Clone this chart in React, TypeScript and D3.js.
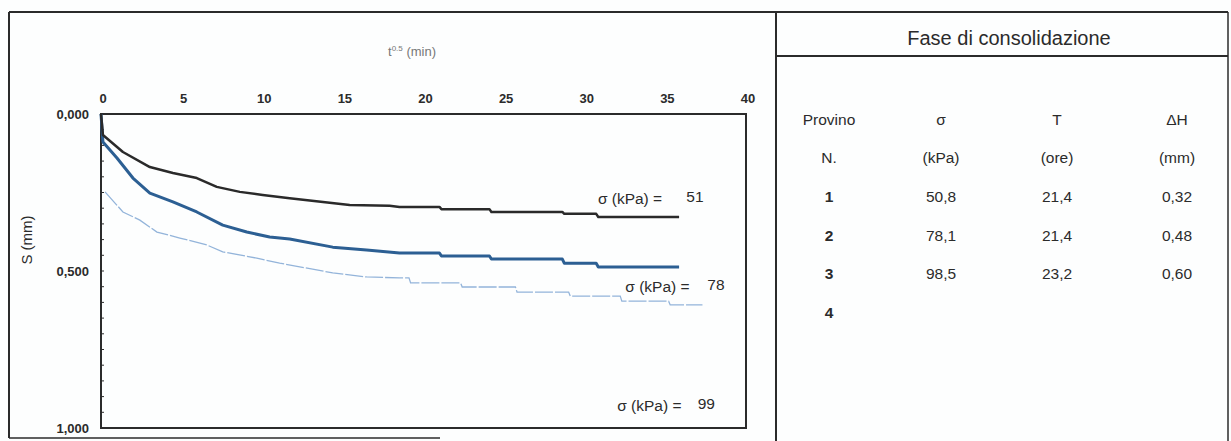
import React from "react";
import * as d3 from "d3";

// curves: [t^0.5 (min), S (mm)]
const curve51: [number, number][] = [
  [0, 0], [0.12, 0.067], [1.36, 0.121], [3.03, 0.169], [4.46, 0.188], [5.94, 0.204],
  [7.18, 0.232], [8.61, 0.248], [10.03, 0.258], [11.7, 0.268], [15.42, 0.29], [17.9, 0.292],
  [18.51, 0.296], [20.99, 0.296], [21.11, 0.303], [24.09, 0.303], [24.21, 0.312], [28.61, 0.312],
  [28.73, 0.318], [30.71, 0.318], [30.84, 0.328], [35.85, 0.328],
];
const curve78: [number, number][] = [
  [0, 0], [0.12, 0.089], [0.99, 0.14], [1.98, 0.204], [3.03, 0.252], [4.46, 0.28], [5.94, 0.312],
  [7.55, 0.354], [9.04, 0.376], [10.46, 0.392], [11.7, 0.398], [14.37, 0.424], [16.47, 0.433],
  [18.51, 0.443], [20.99, 0.443], [21.11, 0.452], [24.09, 0.452], [24.21, 0.462], [28.61, 0.462],
  [28.73, 0.475], [30.71, 0.475], [30.84, 0.487], [35.85, 0.487],
];
const curve99: [number, number][] = [
  [0.25, 0.248], [1.36, 0.312], [2.41, 0.338], [3.47, 0.376], [4.89, 0.395], [6.56, 0.417],
  [7.55, 0.439], [9.66, 0.459], [11.08, 0.475], [14.37, 0.506], [16.47, 0.519], [18.51, 0.522],
  [19.1, 0.522], [19.2, 0.538], [22.3, 0.538], [22.4, 0.551], [25.7, 0.551], [25.8, 0.567],
  [29.0, 0.567], [29.1, 0.58], [32.2, 0.58], [32.3, 0.596], [35.2, 0.596], [35.3, 0.608],
  [37.3, 0.608],
];

const xTicks = [0, 5, 10, 15, 20, 25, 30, 35, 40];
const yTicks = [0, 0.5, 1];
const sigmaLabels = [
  { value: "51", t: 34.8, s: 0.287, tv: 36.3 },
  { value: "78", t: 36.5, s: 0.566, tv: 37.6 },
  { value: "99", t: 36.0, s: 0.945, tv: 37.0 },
];

const tableHead = ["Provino", "σ", "T", "ΔH"];
const tableUnits = ["N.", "(kPa)", "(ore)", "(mm)"];
const tableRows = [
  ["1", "50,8", "21,4", "0,32"],
  ["2", "78,1", "21,4", "0,48"],
  ["3", "98,5", "23,2", "0,60"],
  ["4", "", "", ""],
];

const W = 1231;
const H = 441;
const font = "'Liberation Sans', Arial, sans-serif";
const ink = "#2b2b2b";

export default function App() {
  const x = d3.scaleLinear().domain([0, 40]).range([101, 746]);
  const y = d3.scaleLinear().domain([0, 1]).range([114, 428]);
  const line = d3.line<[number, number]>().x(d => x(d[0])).y(d => y(d[1]));

  const colX = [829, 941, 1057, 1177];
  const rowY = [197, 236, 274, 313];

  return (
    <svg width={W} height={H} style={{ position: "absolute", left: 0, top: 0, background: "#fdfefe" }}
      fontFamily={font}>
      {/* outer frame */}
      <g stroke={ink} fill="none">
        <line x1={9} y1={12} x2={1228} y2={12} strokeWidth={2} />
        <line x1={9} y1={12} x2={9} y2={438} strokeWidth={2} />
        <line x1={1228} y1={12} x2={1228} y2={441} strokeWidth={1.5} />
        <line x1={9} y1={438} x2={440} y2={438} strokeWidth={1.5} />
        <line x1={776} y1={12} x2={776} y2={441} strokeWidth={2} />
        <line x1={776} y1={56} x2={1228} y2={56} strokeWidth={2} />
      </g>

      {/* axis titles */}
      <text x={412} y={56} fontSize={13} fill="#777" textAnchor="middle">
        t<tspan fontSize={8} dy={-5}>0.5</tspan><tspan dy={5}> (min)</tspan>
      </text>
      <text transform="translate(32,240) rotate(-90)" fontSize={15} fill={ink} textAnchor="middle">S (mm)</text>

      {xTicks.map(t => (
        <text key={t} x={x(t) + 2} y={103} fontSize={13} fill={ink} textAnchor="middle" fontWeight="bold">{t}</text>
      ))}
      {yTicks.map(v => (
        <text key={v} x={89} y={y(v) + 5} fontSize={13} fill={ink} textAnchor="end" fontWeight="bold">
          {d3.format(".3f")(v).replace(".", ",")}
        </text>
      ))}

      {/* plot box */}
      <rect x={x(0)} y={y(0)} width={x(40) - x(0)} height={y(1) - y(0)} fill="none" stroke={ink} strokeWidth={2} />
      {d3.range(0, 1.0001, 0.05).map(v => (
        <line key={v} x1={x(0)} x2={x(0) + 3} y1={y(v)} y2={y(v)} stroke={ink} strokeWidth={1} />
      ))}

      {/* curves */}
      <path d={line(curve99) || ""} fill="none" stroke="#93b4da" strokeWidth={1.3} strokeDasharray="18,2" />
      <path d={line(curve78) || ""} fill="none" stroke="#2c5f93" strokeWidth={3} strokeLinejoin="round" />
      <path d={line(curve51) || ""} fill="none" stroke="#2a2a2a" strokeWidth={2.5} strokeLinejoin="round" />

      {sigmaLabels.map(l => (
        <g key={l.value} fontSize={15.5} fill={ink}>
          <text x={x(l.t)} y={y(l.s)} textAnchor="end">σ (kPa) =</text>
          <text x={x(l.tv)} y={y(l.s) - 2}>{l.value}</text>
        </g>
      ))}

      {/* table */}
      <text x={1009} y={45} fontSize={20} fill={ink} textAnchor="middle">Fase di consolidazione</text>
      {tableHead.map((h, i) => (
        <text key={"h" + i} x={colX[i]} y={125} fontSize={15.5} fill={ink} textAnchor="middle">{h}</text>
      ))}
      {tableUnits.map((h, i) => (
        <text key={"u" + i} x={colX[i]} y={163} fontSize={15.5} fill={ink} textAnchor="middle">{h}</text>
      ))}
      {tableRows.map((r, ri) =>
        r.map((c, ci) => (
          <text key={ri + "-" + ci} x={colX[ci]} y={rowY[ri] + 5} fontSize={15.5} fill={ink}
            textAnchor="middle" fontWeight={ci === 0 ? "bold" : "normal"}>{c}</text>
        ))
      )}
    </svg>
  );
}
